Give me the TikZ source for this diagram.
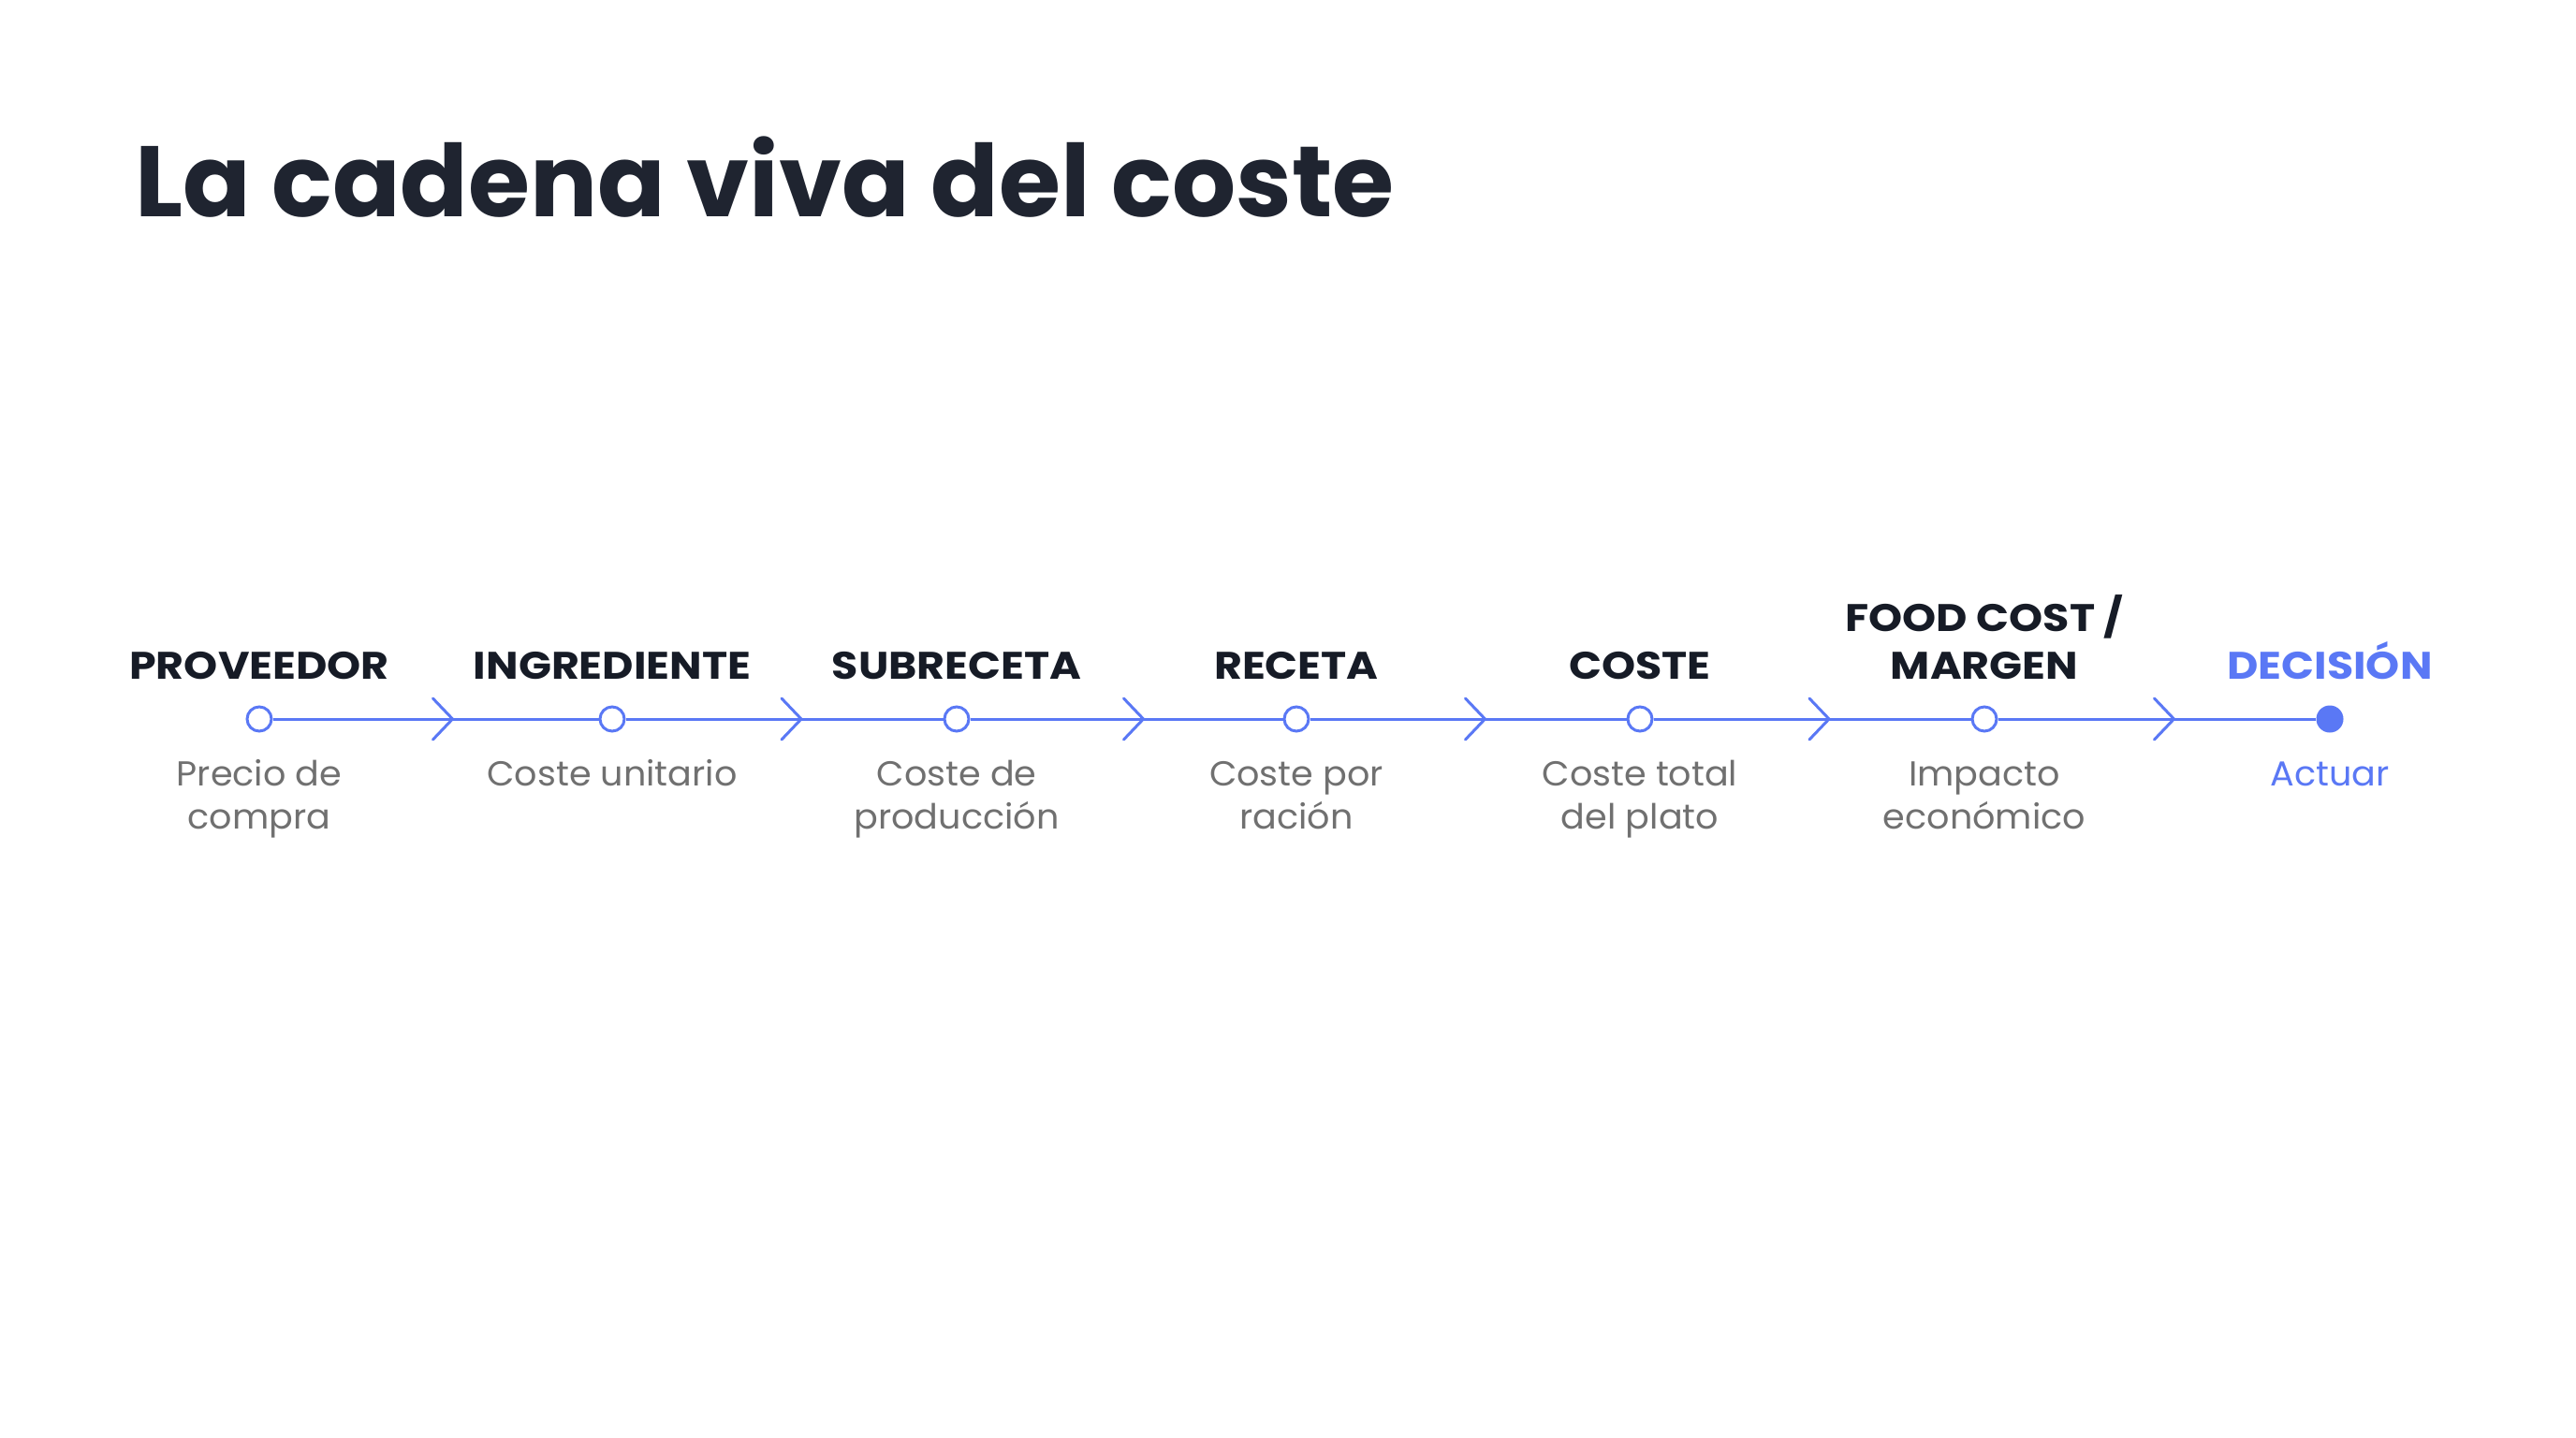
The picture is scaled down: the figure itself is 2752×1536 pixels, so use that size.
\documentclass[tikz,border=0pt]{standalone}
\usepackage{fontspec}
\setmainfont{Poppins}
\newfontfamily\labfont{Poppins}[FakeStretch=1.12]
\newfontfamily\subfont{Poppins}[FakeStretch=1.03]
\usetikzlibrary{calc}
\definecolor{titlec}{HTML}{1F2430}
\definecolor{labc}{HTML}{161B26}
\definecolor{bluec}{HTML}{5A78F5}
\definecolor{grayc}{HTML}{707070}
\begin{document}
\begin{tikzpicture}[x=1pt,y=1pt,
  stepdot/.style={circle,draw=bluec,line width=3pt,fill=white,minimum size=26pt,inner sep=0pt},
  enddot/.style={circle,fill=bluec,minimum size=29pt,inner sep=0pt},
  steplabel/.style={anchor=base,align=center,text=labc,font=\labfont\fontsize{41}{51}\selectfont\bfseries,inner sep=0pt},
  stepsub/.style={anchor=base,align=center,text=grayc,font=\subfont\fontsize{37}{46}\selectfont,inner sep=0pt},
  link/.style={draw=bluec,line width=3pt},
  chev/.style={draw=bluec,line width=3pt,line cap=round,line join=miter}
]
\useasboundingbox (0,0) rectangle (2752,-1536);
\fill[white] (0,0) rectangle (2752,-1536);
\node[anchor=base west,inner sep=0pt,text=titlec,font=\fontsize{107}{120}\selectfont\bfseries] (title) at (144,-231) {La cadena viva del coste};

\foreach \i/\x in {1/277,2/654,3/1022,4/1385,5/1752,6/2120} {
  \node[stepdot] (c\i) at (\x,-768) {};
}
\node[enddot] (c7) at (2489,-768) {};

\foreach \i [count=\j from 2] in {1,...,6} {
  \draw[link] (c\i) -- (c\j);
  \coordinate (m\i) at ($(c\i)!0.5!(c\j)$);
  \draw[chev] ($(m\i)+(-3,22)$) -- ($(m\i)+(18,0)$) -- ($(m\i)+(-3,-22)$);
}

\node[steplabel] (l1) at (277,-725) {PROVEEDOR};
\node[steplabel] (l2) at (654,-725) {INGREDIENTE};
\node[steplabel] (l3) at (1022,-725) {SUBRECETA};
\node[steplabel] (l4) at (1385,-725) {RECETA};
\node[steplabel] (l5) at (1752,-725) {COSTE};
\node[steplabel] (l6) at (2120,-725) {FOOD COST /\\MARGEN};
\node[steplabel,text=bluec] (l7) at (2489,-725) {DECISIÓN};

\node[stepsub] (s1) at (277,-885) {Precio de\\compra};
\node[stepsub] (s2) at (654,-839) {Coste unitario};
\node[stepsub] (s3) at (1022,-885) {Coste de\\producción};
\node[stepsub] (s4) at (1385,-885) {Coste por\\ración};
\node[stepsub] (s5) at (1752,-885) {Coste total\\del plato};
\node[stepsub] (s6) at (2120,-885) {Impacto\\económico};
\node[stepsub,text=bluec] (s7) at (2489,-839) {Actuar};
\end{tikzpicture}
\end{document}
